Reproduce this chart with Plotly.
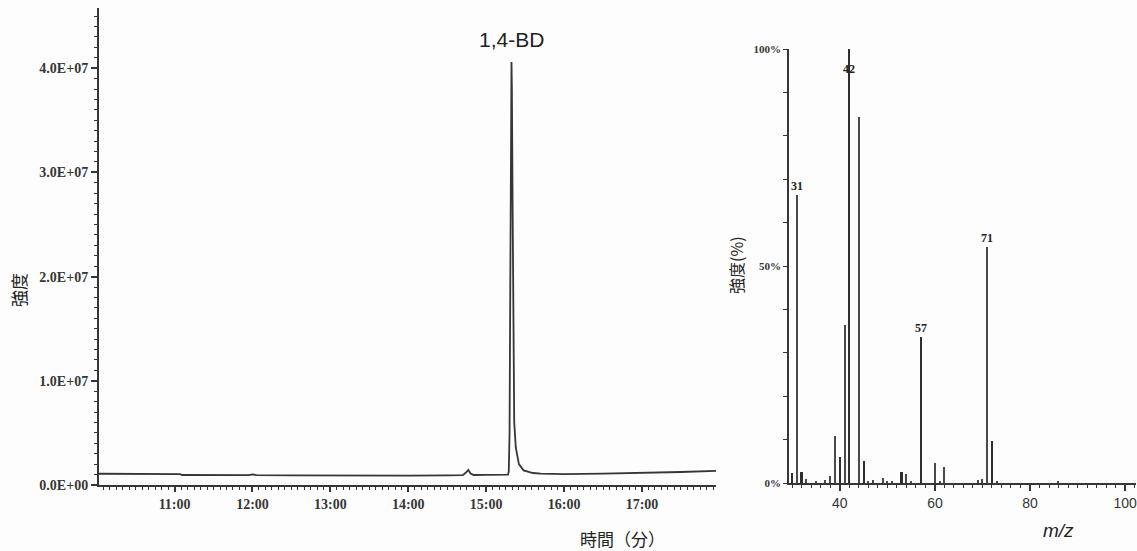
import plotly.graph_objects as go

# ---------------- data ----------------
# Chromatogram (time in minutes, intensity in counts)
time_min = [10.03, 10.2, 10.4, 10.45, 10.5, 10.6, 10.8, 11.0, 11.07, 11.1, 11.5, 11.95, 12.0, 12.05,
            12.5, 13.0, 13.5, 14.0, 14.5, 14.7, 14.74, 14.77, 14.8, 14.84, 15.0, 15.2, 15.28,
            15.29, 15.30, 15.31, 15.32, 15.325, 15.33, 15.34, 15.35, 15.36, 15.38, 15.42, 15.48,
            15.6, 15.7, 16.0, 16.5, 17.0, 17.5, 17.95]
intensity = [1.08e6, 1.08e6, 1.12e6, 1.08e6, 1.12e6, 1.08e6, 1.07e6, 1.06e6, 1.05e6, 0.96e6, 0.95e6, 0.95e6, 1.02e6, 0.95e6,
             0.93e6, 0.9e6, 0.9e6, 0.9e6, 0.92e6, 0.95e6, 1.2e6, 1.44e6, 1.1e6, 0.96e6, 0.97e6, 0.98e6, 1.0e6,
             1.3e6, 5.0e6, 2.0e7, 3.7e7, 4.06e7, 3.8e7, 2.6e7, 1.2e7, 6.0e6, 3.6e6, 2.0e6, 1.4e6,
             1.15e6, 1.1e6, 1.05e6, 1.1e6, 1.15e6, 1.25e6, 1.35e6]
chrom_tickvals = [11, 12, 13, 14, 15, 16, 17]
chrom_ticktext = ["11:00", "12:00", "13:00", "14:00", "15:00", "16:00", "17:00"]
int_tickvals = [0, 1e7, 2e7, 3e7, 4e7]
int_ticktext = ["0.0E+00", "1.0E+07", "2.0E+07", "3.0E+07", "4.0E+07"]

# Mass spectrum (m/z, relative intensity %), strong sticks and fine sticks
mz_strong = [30, 32, 40, 42, 45, 53, 57, 72]
rel_strong = [2.3, 2.5, 6.0, 100.0, 5.0, 2.5, 33.6, 9.7]
mz_fine = [31, 33, 35, 37, 38, 39, 41, 44, 46, 47, 49, 50, 51, 54, 55, 60, 61, 62, 69, 70, 71, 73, 86]
rel_fine = [66.4, 1.0, 0.5, 0.6, 1.5, 10.8, 36.4, 84.3, 0.5, 0.7, 1.2, 0.5, 0.5, 2.0, 0.5, 4.6, 0.5,
            3.7, 0.6, 1.0, 54.4, 0.5, 0.4]
ms_labels_mz = [31, 42, 57, 71]
ms_labels_y = [66.4, 95.4, 33.6, 54.4]
ms_labels_anchor = ["bottom", "middle", "bottom", "bottom"]
ms_tickvals = [40, 60, 80, 100]
pct_tickvals = [0, 10, 20, 30, 40, 50, 60, 70, 80, 90, 100]
pct_ticktext = ["0%", "", "", "", "", "50%", "", "", "", "", "100%"]

# ---------------- figure ----------------
W, H = 1137, 551
OFF = 0  # body margin removed by post_script
INK = "#363636"
tickfont = dict(family="Liberation Serif", size=14, color=INK, weight="bold")

fig = go.Figure()
fig.add_trace(go.Scatter(x=time_min, y=intensity, mode="lines",
                         line=dict(color=INK, width=1.8), xaxis="x", yaxis="y",
                         showlegend=False, hoverinfo="skip"))
fig.add_trace(go.Bar(x=mz_fine, y=rel_fine, width=0.26, marker=dict(color="#4a4a4a", line=dict(width=0)),
                     xaxis="x2", yaxis="y2", showlegend=False, hoverinfo="skip"))
fig.add_trace(go.Bar(x=mz_strong, y=rel_strong, width=0.42, marker=dict(color="#2e2e2e", line=dict(width=0)),
                     xaxis="x2", yaxis="y2", showlegend=False, hoverinfo="skip"))


def px_x(p):
    return (p - OFF) / W


def px_y(p):
    return 1 - (p - OFF) / H


fig.update_layout(
    width=W, height=H,
    margin=dict(l=0, r=0, t=0, b=0, autoexpand=False),
    paper_bgcolor="#fdfdfd", plot_bgcolor="#fdfdfd",
    bargap=0, barmode="overlay",
    xaxis=dict(domain=[px_x(99), px_x(716)], range=[10.03, 17.95], showline=True,
               linecolor=INK, linewidth=2, showgrid=False, zeroline=False,
               tickvals=chrom_tickvals, ticktext=chrom_ticktext, ticks="outside",
               ticklen=5, tickwidth=1.5, tickcolor=INK, tickfont=tickfont,
               minor=dict(dtick=1/12, tick0=10, ticks="outside", ticklen=3, tickcolor=INK, tickwidth=1),
               anchor="y", automargin=False),
    yaxis=dict(domain=[px_y(485), px_y(8)], range=[0, (485 - 8) / 104.2 * 1e7], showline=True,
               linecolor=INK, linewidth=2, showgrid=False, zeroline=False,
               tickvals=int_tickvals, ticktext=int_ticktext, ticks="outside",
               ticklen=6, tickwidth=1.5, tickcolor=INK, tickfont=tickfont,
               minor=dict(dtick=1e6, ticks="outside", ticklen=3, tickcolor=INK, tickwidth=1),
               anchor="x", automargin=False),
    xaxis2=dict(domain=[px_x(789), px_x(1136)], range=[29.3, 102.3], showline=True,
                linecolor=INK, linewidth=1.5, showgrid=False, zeroline=False,
                tickvals=ms_tickvals, ticks="outside", ticklen=6, tickwidth=1.5, tickcolor=INK,
                tickfont=dict(family="Liberation Sans", size=14, color=INK),
                minor=dict(dtick=2, tick0=0, ticks="outside", ticklen=3, tickcolor=INK, tickwidth=1),
                anchor="y2", automargin=False),
    yaxis2=dict(domain=[px_y(483), px_y(49)], range=[0, 100], showline=True,
                linecolor=INK, linewidth=1.5, showgrid=False, zeroline=False,
                tickvals=pct_tickvals, ticktext=pct_ticktext, ticks="outside",
                ticklen=4, tickwidth=1, tickcolor=INK,
                tickfont=dict(family="Liberation Serif", size=11, color=INK, weight="bold"),
                anchor="x2", automargin=False),
)

ann = []
# peak name
ann.append(dict(x=15.326, y=4.06e7, xref="x", yref="y", text="1,4-BD", showarrow=False,
                xanchor="center", yanchor="bottom", yshift=9,
                font=dict(family="Liberation Sans", size=21, color="#222")))
# axis titles
ann.append(dict(x=px_x(18), y=px_y(290), xref="paper", yref="paper", text="強度", textangle=-90,
                xanchor="center", yanchor="middle", showarrow=False,
                font=dict(family="Noto Sans CJK JP", size=17, color="#222")))
ann.append(dict(x=px_x(622), y=px_y(538), xref="paper", yref="paper", text="時間（分）",
                xanchor="center", yanchor="middle", showarrow=False,
                font=dict(family="Noto Sans CJK JP", size=17, color="#222")))
ann.append(dict(x=px_x(736), y=px_y(265), xref="paper", yref="paper", text="強度(%)", textangle=-90,
                xanchor="center", yanchor="middle", showarrow=False,
                font=dict(family="Noto Sans CJK JP", size=16, color="#222")))
ann.append(dict(x=px_x(1058), y=px_y(530), xref="paper", yref="paper", text="<i>m/z</i>",
                xanchor="center", yanchor="middle", showarrow=False,
                font=dict(family="Liberation Sans", size=19, color="#222")))
# MS peak labels
for m, yv, ya in zip(ms_labels_mz, ms_labels_y, ms_labels_anchor):
    ann.append(dict(x=m, y=yv, xref="x2", yref="y2", text=str(m), showarrow=False,
                    xanchor="center", yanchor=ya,
                    font=dict(family="Liberation Serif", size=12, color="#222", weight="bold")))
fig.update_layout(annotations=ann)

fig.write_html("out.html", config={"displayModeBar": False},
               post_script="document.body.style.margin='0px';document.body.style.overflow='hidden';")
